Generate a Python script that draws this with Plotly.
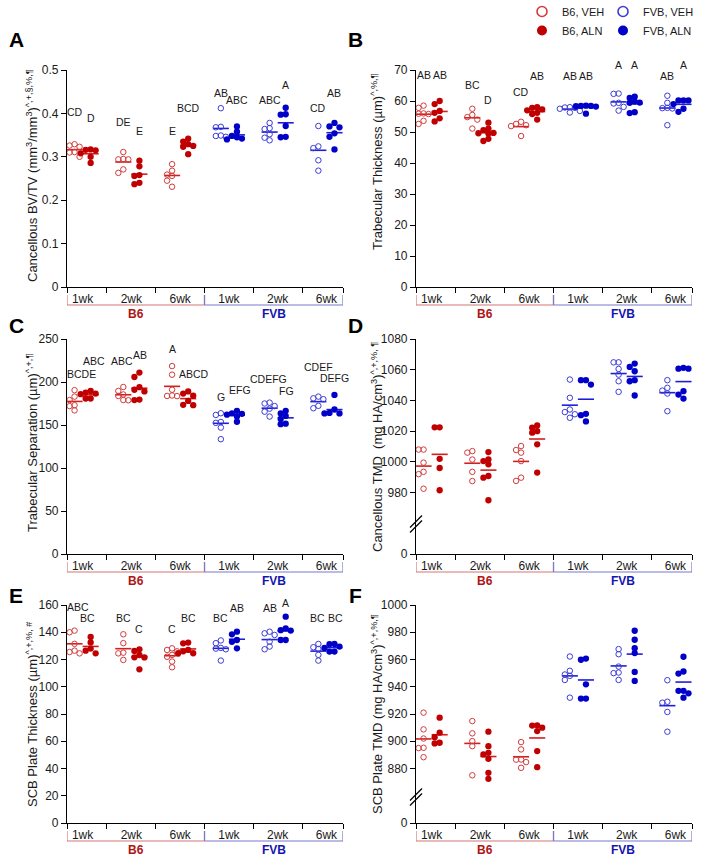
import plotly.graph_objects as go

# ---------------- data ----------------
weeks = ["1wk", "2wk", "6wk", "1wk", "2wk", "6wk"]
strains = ["B6", "FVB"]
series_names = ["B6, VEH", "B6, ALN", "FVB, VEH", "FVB, ALN"]

# Panel A - Cancellous BV/TV
A_B6_VEH = [[0.329, 0.326, 0.323, 0.311, 0.310, 0.300], [0.311, 0.295, 0.294, 0.294, 0.271, 0.263], [0.283, 0.268, 0.259, 0.256, 0.245, 0.231]]
A_B6_ALN = [[0.317, 0.316, 0.315, 0.308, 0.300, 0.286], [0.291, 0.278, 0.258, 0.256, 0.240, 0.237], [0.342, 0.335, 0.329, 0.325, 0.323, 0.306]]
A_FVB_VEH = [[0.412, 0.369, 0.368, 0.349, 0.348, 0.346], [0.378, 0.366, 0.364, 0.352, 0.344, 0.338], [0.371, 0.324, 0.320, 0.292, 0.268]]
A_FVB_ALN = [[0.370, 0.358, 0.348, 0.345, 0.342, 0.340], [0.413, 0.398, 0.397, 0.371, 0.346, 0.345], [0.378, 0.370, 0.368, 0.354, 0.346, 0.317]]
A_letters = ["CD", "D", "DE", "E", "E", "BCD", "AB", "ABC", "ABC", "A", "CD", "AB"]
A_letter_y = [0.404, 0.390, 0.381, 0.359, 0.359, 0.413, 0.448, 0.431, 0.431, 0.465, 0.413, 0.448]

# Panel B - Trabecular thickness
B_B6_VEH = [[58.5, 57.8, 56.0, 55.9, 55.8, 53.6, 52.6], [57.5, 55.5, 54.8, 54.0, 51.1], [53.3, 52.6, 52.2, 51.9, 48.7]]
B_B6_ALN = [[60.0, 59.0, 56.8, 56.2, 54.4, 53.4], [53.0, 51.1, 50.6, 49.7, 49.6, 49.5, 47.8, 47.1], [58.0, 57.8, 57.3, 57.0, 56.2, 55.8, 54.0]]
B_FVB_VEH = [[58.0, 57.9, 57.8, 57.5, 56.8, 56.3], [62.4, 62.3, 59.4, 59.2, 58.1, 56.9], [61.7, 59.4, 57.8, 57.7, 57.6, 52.2]]
B_FVB_ALN = [[58.5, 58.4, 58.4, 58.3, 58.2, 55.9], [61.4, 61.0, 59.8, 59.5, 59.4, 56.4, 56.1], [60.2, 60.2, 60.2, 59.0, 57.5, 56.5]]
B_letters = ["AB", "AB", "BC", "D", "CD", "AB", "AB", "AB", "A", "A", "AB", "A"]
B_letter_y = [68.4, 68.4, 65.3, 60.3, 63.0, 68.0, 68.0, 68.0, 71.6, 71.6, 68.0, 71.6]

# Panel C - Trabecular separation
C_B6_VEH = [[190.5, 183, 179, 173, 172, 167], [194.2, 189.6, 185.5, 183.8, 179, 178.8], [218.5, 208.5, 191, 184.3, 183.8, 183.6]]
C_B6_ALN = [[189.6, 187.7, 186.5, 185.8, 180.8, 180.8], [211, 205.8, 194, 191, 189, 179.6, 179], [189, 186.5, 184, 178, 173.5, 173]]
C_FVB_VEH = [[163.7, 161.7, 153.5, 152.5, 147, 133.5], [176, 175, 172, 169, 165.5, 159.8], [183, 181, 180, 172.3, 169.5]]
C_FVB_ALN = [[166.5, 163.5, 163, 162, 160, 153.8], [166.5, 163.5, 160.5, 157, 151.5, 151], [185, 168, 164, 163.5, 163.5, 163.5]]
C_letters = ["BCDE", "ABC", "ABC", "AB", "A", "ABCD", "G", "EFG", "CDEFG", "FG", "CDEF", "DEFG"]
C_letter_y = [209.5, 224.3, 224.3, 231.6, 237.8, 209.5, 182.3, 191.2, 203.1, 189.6, 217.0, 204.3]
C_letter_dx = [7, 3, -1, 1, 0, 6, 0, 3, -1, 1, 0, 0]

# Panel D - Cancellous TMD
D_B6_VEH = [[1008, 1008, 999.5, 993.5, 992, 982.5], [1007, 1006, 1001.5, 993.5, 987.5], [1010.3, 1007.7, 1006, 1000.5, 989.7, 987.6]]
D_B6_ALN = [[1022.5, 1022.5, 1002, 996, 981.5], [1006.4, 1001.6, 1000.5, 998.4, 990.8, 989.7, 975], [1023.7, 1022.2, 1020, 1019, 1011.4, 993]]
D_FVB_VEH = [[1053.6, 1041.7, 1034.1, 1032.4, 1031, 1028.7], [1064.8, 1064.8, 1060.5, 1056.8, 1052.5, 1045.6], [1053.2, 1048.2, 1046.4, 1044.5, 1033]]
D_FVB_ALN = [[1053.2, 1053.2, 1050.3, 1031.3, 1030.4, 1026.3], [1064, 1061.8, 1059, 1053.2, 1052.5, 1043.2], [1061.2, 1060.7, 1060.7, 1046, 1043.8, 1041.2]]

# Panel E - SCB plate thickness
E_B6_VEH = [[141.2, 140, 131.5, 126.5, 125.5, 124.5], [138.5, 132, 125, 124.5, 119.7], [128.2, 127, 126, 123.4, 122, 118.5, 114.3]]
E_B6_ALN = [[136.5, 132.5, 128, 126.5, 124.5], [127.5, 126.3, 123.3, 121.6, 121.5, 112.8], [132.4, 131.9, 127, 126, 124.6, 124.6]]
E_FVB_VEH = [[134, 132, 128.5, 128, 127.5, 119.2], [140.4, 139.2, 138, 133.1, 129.5, 127.5], [131.4, 129, 127.7, 123.4, 119.2]]
E_FVB_ALN = [[140.4, 138.5, 134.3, 133, 128.2], [151.4, 142.9, 141.5, 141.2, 134.3, 134.3], [131.4, 131.2, 129.5, 128.5, 125.8, 125.8]]
E_letters = ["ABC", "BC", "BC", "C", "C", "BC", "BC", "AB", "AB", "A", "BC", "BC"]
E_letter_y = [158.3, 150.2, 150.2, 142.2, 142.2, 150.2, 150.2, 158.0, 158.0, 161.2, 150.2, 150.2]
E_letter_dx = [3, -3, 0, 0, 0, 0, 0, 0, 0, 0, -1, 1]

# Panel F - SCB plate TMD
F_B6_VEH = [[921, 908.7, 902, 895.2, 895, 888.3], [914.8, 905.8, 900.1, 896.4, 875], [899.4, 894, 886.6, 886.5, 884.7, 880.5]]
F_B6_ALN = [[917.3, 906.3, 903, 898.9, 898.4], [907, 896.4, 891.5, 890.3, 887.1, 876.8, 872.4], [911.7, 911.5, 910, 907.5, 892.8, 881]]
F_FVB_VEH = [[962.2, 951.7, 949, 948, 945, 932], [967.6, 963.9, 954.8, 950.4, 950, 945], [944.8, 929, 928.3, 921.5, 907]]
F_FVB_ALN = [[960.7, 959.8, 941.8, 931.3, 931.3], [981.1, 974.5, 968.3, 964.7, 950.9, 944.3], [962, 951.2, 949.7, 937, 937, 935.2, 932]]

# ---------------- layout helpers ----------------
W, H = 704, 867
FONT = "Liberation Sans, Arial, Helvetica, sans-serif"
RED_OPEN, RED_FILL, RED_LINE = "#d23c3c", "#c00000", "#d41e1e"
BLUE_OPEN, BLUE_FILL, BLUE_LINE = "#3c3cd6", "#0000c8", "#1e1ed8"
RED_BRACKET, BLUE_BRACKET = "#d27878", "#7878cc"
RED_TXT, BLUE_TXT = "#b01414", "#1414b0"


def fx(p):
    return p / W


def fy(p):
    return 1 - p / H


ROWS = {"top": (70, 287), "mid": (339, 554), "bot": (605, 823)}
COLS = {"L": (67, 343), "R": (416, 692)}
XR = [0.68, 6.34]
SUB = 0.165      # offset of VEH / ALN columns from group centre
HALF = 0.165     # half width of the mean bar
DOT = 5.0        # px distance between swarm dots

panels = [
    dict(key="A", col="L", row="top", data=[A_B6_VEH, A_B6_ALN, A_FVB_VEH, A_FVB_ALN],
         yr=[0, 0.5], tv=[0, 0.1, 0.2, 0.3, 0.4, 0.5], tt=["0", "0.1", "0.2", "0.3", "0.4", "0.5"],
         title="Cancellous BV/TV (mm<sup>3</sup>/mm<sup>3</sup>)<sup>^,+,§,%,¶</sup>", tpos=(32, 176),
         letters=A_letters, ly=A_letter_y, ldx=None, brk=None),
    dict(key="B", col="R", row="top", data=[B_B6_VEH, B_B6_ALN, B_FVB_VEH, B_FVB_ALN],
         yr=[0, 70], tv=list(range(0, 71, 10)), tt=[str(v) for v in range(0, 71, 10)],
         title="Trabecular Thickness (µm)<sup>^,%,¶</sup>", tpos=(377, 162),
         letters=B_letters, ly=B_letter_y, ldx=None, brk=None),
    dict(key="C", col="L", row="mid", data=[C_B6_VEH, C_B6_ALN, C_FVB_VEH, C_FVB_ALN],
         yr=[0, 250], tv=list(range(0, 251, 50)), tt=[str(v) for v in range(0, 251, 50)],
         title="Trabecular Separation (µm)<sup>^,+,¶</sup>", tpos=(32, 443),
         letters=C_letters, ly=C_letter_y, ldx=C_letter_dx, brk=None),
    dict(key="D", col="R", row="mid", data=[D_B6_VEH, D_B6_ALN, D_FVB_VEH, D_FVB_ALN],
         yr=[940, 1080], tv=[940, 980, 1000, 1020, 1040, 1060, 1080],
         tt=["0", "980", "1000", "1020", "1040", "1060", "1080"],
         title="Cancellous TMD  (mg HA/cm<sup>3</sup>)<sup>^,+,%, ¶</sup>", tpos=(377, 447),
         letters=None, ly=None, ldx=None, brk=524),
    dict(key="E", col="L", row="bot", data=[E_B6_VEH, E_B6_ALN, E_FVB_VEH, E_FVB_ALN],
         yr=[0, 160], tv=list(range(0, 161, 20)), tt=[str(v) for v in range(0, 161, 20)],
         title="SCB Plate Thickness (µm)<sup>^,+,%, #</sup>", tpos=(32, 714),
         letters=E_letters, ly=E_letter_y, ldx=E_letter_dx, brk=None),
    dict(key="F", col="R", row="bot", data=[F_B6_VEH, F_B6_ALN, F_FVB_VEH, F_FVB_ALN],
         yr=[840, 1000], tv=[840, 880, 900, 920, 940, 960, 980, 1000],
         tt=["0", "880", "900", "920", "940", "960", "980", "1000"],
         title="SCB Plate TMD (mg HA/cm<sup>3</sup>)<sup>^,+,%,¶</sup>", tpos=(377, 714),
         letters=None, ly=None, ldx=None, brk=797),
]

styles = [
    dict(symbol="circle-open", color=RED_OPEN, size=5.5, lw=1.0, mean=RED_LINE, strain=0, sub=-1),
    dict(symbol="circle", color=RED_FILL, size=6.3, lw=0, mean=RED_LINE, strain=0, sub=1),
    dict(symbol="circle-open", color=BLUE_OPEN, size=5.5, lw=1.0, mean=BLUE_LINE, strain=1, sub=-1),
    dict(symbol="circle", color=BLUE_FILL, size=6.3, lw=0, mean=BLUE_LINE, strain=1, sub=1),
]


def swarm(vals, ppu_y, ppu_x):
    """Deterministic beeswarm offsets (data units) so that dots do not overlap."""
    order = sorted(range(len(vals)), key=lambda i: -vals[i])
    placed, offs = [], [0.0] * len(vals)
    for i in order:
        yp = vals[i] * ppu_y
        for k in [0, -1, 1, -2, 2, -3, 3, -4, 4]:
            xo = k * DOT
            if all((xo - a) ** 2 + (yp - b) ** 2 >= (DOT * 0.98) ** 2 for a, b in placed):
                break
        placed.append((xo, yp))
        offs[i] = xo / ppu_x
    return offs


fig = go.Figure()
layout = dict(width=W, height=H, margin=dict(l=0, r=0, t=0, b=0, autoexpand=False),
              paper_bgcolor="white", plot_bgcolor="white", showlegend=True,
              font=dict(family=FONT, size=12, color="#1a1a1a"))
annotations, shapes = [], []

for n, p in enumerate(panels, start=1):
    xs = "" if n == 1 else str(n)
    xref, yref = "x" + xs, "y" + xs
    c0, c1 = COLS[p["col"]]
    r0, r1 = ROWS[p["row"]]
    ppu_x = (c1 - c0) / (XR[1] - XR[0])
    ppu_y = (r1 - r0) / (p["yr"][1] - p["yr"][0])

    layout["xaxis" + xs] = dict(
        domain=[fx(c0), fx(c1)], anchor=yref, range=XR, tickmode="array",
        tickvals=[1, 2, 3, 4, 5, 6], ticktext=weeks, ticks="", showline=True,
        linecolor="black", linewidth=1.2, showgrid=False, zeroline=False,
        tickfont=dict(size=12, color="#1a1a1a", family=FONT), fixedrange=True,
        minor=dict(tickmode="array", tickvals=[XR[0], 1.5, 2.5, 3.5, 4.5, 5.5, XR[1]],
                   ticks="outside", ticklen=5, tickcolor="black", tickwidth=1.2, showgrid=False))
    layout["yaxis" + xs] = dict(
        domain=[fy(r1), fy(r0)], anchor=xref, range=p["yr"], tickmode="array",
        tickvals=p["tv"], ticktext=p["tt"], ticks="outside", ticklen=5, tickwidth=1.2,
        tickcolor="black", showline=True, linecolor="black", linewidth=1.2,
        showgrid=False, zeroline=False, fixedrange=True,
        tickfont=dict(size=12, color="#1a1a1a", family=FONT))

    for s, vals_by_group in enumerate(p["data"]):
        st = styles[s]
        xx, yy, mx, my = [], [], [], []
        for g, vals in enumerate(vals_by_group):
            centre = st["strain"] * 3 + g + 1 + st["sub"] * SUB
            offs = swarm(vals, ppu_y, ppu_x)
            xx += [centre + o for o in offs]
            yy += list(vals)
            m = sum(vals) / len(vals)
            mx += [centre - HALF, centre + HALF, None]
            my += [m, m, None]
        fig.add_trace(go.Scatter(x=mx, y=my, mode="lines", xaxis=xref, yaxis=yref,
                                 line=dict(color=st["mean"], width=1.6), showlegend=False,
                                 hoverinfo="skip"))
        fig.add_trace(go.Scatter(x=xx, y=yy, mode="markers", xaxis=xref, yaxis=yref,
                                 marker=dict(symbol=st["symbol"], size=st["size"],
                                             color=st["color"],
                                             line=dict(width=st["lw"], color=st["color"])),
                                 showlegend=False, cliponaxis=False))

    # significance letters (y given in data units, converted so they may sit above the range)
    if p["letters"]:
        for i, (txt, yv) in enumerate(zip(p["letters"], p["ly"])):
            group = i // 2 + 1
            sub = -1 if i % 2 == 0 else 1
            dx = p["ldx"][i] if p["ldx"] else 0
            ypx = r1 - (yv - p["yr"][0]) * ppu_y
            annotations.append(dict(x=group + sub * SUB + dx / ppu_x, y=fy(ypx), xref=xref, yref="paper",
                                    text=txt, showarrow=False, xanchor="center", yanchor="middle",
                                    font=dict(size=10.5, color="#1a1a1a", family=FONT)))

    # axis title
    annotations.append(dict(x=fx(p["tpos"][0]), y=fy(p["tpos"][1]), xref="paper", yref="paper",
                            text=p["title"], textangle=-90, showarrow=False,
                            xanchor="center", yanchor="middle",
                            font=dict(size=13, color="#1a1a1a", family=FONT)))
    # panel letter
    annotations.append(dict(x=fx(16 if p["col"] == "L" else 355),
                            y=fy({"top": 40, "mid": 325, "bot": 595}[p["row"]]),
                            xref="paper", yref="paper", text="<b>%s</b>" % p["key"], showarrow=False,
                            xanchor="center", yanchor="middle",
                            font=dict(size=21, color="black", family=FONT)))

    # strain brackets under the axis
    yb, yt = fy(r1 + 18), fy(r1 + 8)
    for (xa, xb, col) in [(XR[0], 3.5, RED_BRACKET), (3.5, XR[1], BLUE_BRACKET)]:
        shapes.append(dict(type="line", xref=xref, yref="paper", x0=xa, x1=xb, y0=yb, y1=yb,
                           line=dict(color=col, width=1.2)))
        for xe in (xa, xb):
            shapes.append(dict(type="line", xref=xref, yref="paper", x0=xe, x1=xe, y0=yb, y1=yt,
                               line=dict(color=col, width=1.2)))
    for k, (name, col) in enumerate(zip(strains, [RED_TXT, BLUE_TXT])):
        xc = (XR[0] + 3.5) / 2 if k == 0 else (3.5 + XR[1]) / 2
        annotations.append(dict(x=xc, y=fy(r1 + 27), xref=xref, yref="paper",
                                text="<b>%s</b>" % name, showarrow=False, xanchor="center",
                                yanchor="middle", font=dict(size=12, color=col, family=FONT)))

    # axis break marks
    if p["brk"]:
        b = p["brk"]
        for off in (-2.5, 2.5):
            shapes.append(dict(type="line", xref="paper", yref="paper",
                               x0=fx(c0 - 6), y0=fy(b + 6 + off), x1=fx(c0 + 6), y1=fy(b - 6 + off),
                               line=dict(color="black", width=1.2)))

# legend entries (no data, only the key)
for s, st in enumerate(styles):
    fig.add_trace(go.Scatter(x=[None], y=[None], mode="markers", name=series_names[s],
                             legend="legend" if st["strain"] == 0 else "legend2",
                             marker=dict(symbol=st["symbol"], size=10, color=st["color"],
                                         line=dict(width=1.6 if st["lw"] else 0, color=st["color"]))))

leg_common = dict(yanchor="top", xanchor="left", bgcolor="rgba(0,0,0,0)", borderwidth=0,
                  font=dict(size=11, color="#1a1a1a", family=FONT), tracegroupgap=0,
                  itemclick=False, itemdoubleclick=False)
layout["legend"] = dict(x=fx(522), y=fy(-3), **leg_common)
layout["legend2"] = dict(x=fx(603), y=fy(-3), **leg_common)
layout["annotations"] = annotations
layout["shapes"] = shapes
fig.update_layout(**layout)
fig.write_html("out.html", config={"displayModeBar": False},
               post_script="document.documentElement.style.margin='0';"
                           "document.body.style.margin='0';document.body.style.padding='0';"
                           "document.body.style.overflow='hidden';")
